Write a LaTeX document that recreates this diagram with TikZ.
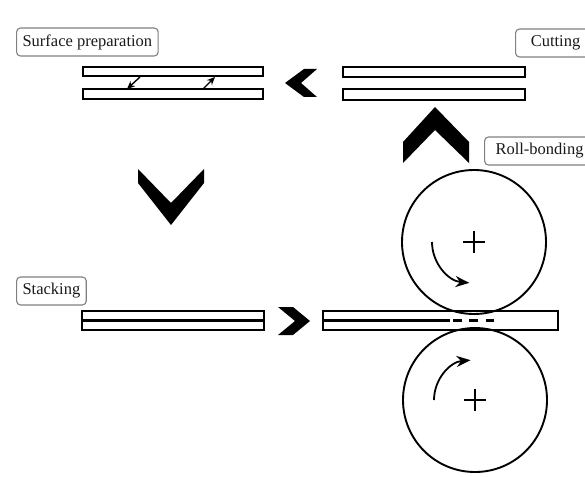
\documentclass[tikz,border=0pt]{standalone}
\usepackage{fontspec}
\setmainfont{Liberation Serif}
\usetikzlibrary{arrows.meta}
\tikzset{
  plate/.style={draw=black, line width=2.4pt, fill=white, inner sep=0pt},
  label/.style={draw=black!50, line width=1.1pt, rounded corners=4pt, fill=white,
    inner xsep=6pt, minimum height=28pt, text=black!90,
    font=\fontsize{16.5}{19}\selectfont},
  chev/.style={fill=black, draw=none},
  roll/.style={draw=black, line width=1.9pt},
  rot/.style={line width=1.8pt, -{Stealth[length=14pt,width=11pt]}},
  thin arrow/.style={line width=1.4pt, -{Stealth[length=8pt,width=7pt]}},
  mark line/.style={line width=1.6pt}
}
\begin{document}
\begin{tikzpicture}[x=1pt,y=-1pt]
\useasboundingbox (0,0) rectangle (585,476);
\clip (0,0) rectangle (585,476);

% labels
\node[label, anchor=west] (lsurf) at (16,42) {Surface preparation};
\node[label, anchor=west, minimum width=80pt] (lcut) at (515,43) {Cutting\hspace{12pt}};
\node[label, anchor=west, minimum width=110pt] (lroll) at (484,151) {Roll-bonding\hspace{12pt}};
\node[label, anchor=west] (lstack) at (16,291) {Stacking};

% top-left plates (surface preparation)
\node[plate, minimum width=180, minimum height=9] (pa) at (173,71.5) {};
\node[plate, minimum width=180, minimum height=10] (pb) at (173,94) {};
\coordinate (a1s) at (140,77);
\coordinate (a1e) at (127,89);
\coordinate (a2s) at (203,89);
\coordinate (a2e) at (215,77);
\draw[thin arrow] (a1s) -- (a1e);
\draw[thin arrow] (a2s) -- (a2e);

% top-right plates (cutting)
\node[plate, minimum width=182, minimum height=10] (pc) at (434,72) {};
\node[plate, minimum width=182, minimum height=11] (pd) at (434,94.5) {};

% left stacked plates
\node[plate, minimum width=182, minimum height=19] (ps) at (173,320.5) {};
\draw[line width=2.4pt] (ps.west |- 0,320.5) -- (ps.east |- 0,320.5);

% right plate through the rolls
\node[plate, minimum width=235, minimum height=19] (pr) at (440.5,320.5) {};
\coordinate (dash0) at (450,320.5);
\draw[line width=2.4pt] (pr.west |- 0,320.5) -- (dash0);
\draw[line width=2.4pt] (453,320.5) -- (462,320.5);
\draw[line width=2.4pt] (469,320.5) -- (478,320.5);
\draw[line width=2.4pt] (486,320.5) -- (494,320.5);

% rolls
\node[roll, circle, minimum size=144, inner sep=0pt] (rt) at (474,242) {};
\node[roll, circle, minimum size=144, inner sep=0pt] (rb) at (475,400) {};
% plus signs
\draw[mark line] (rt.center) ++(-11,0) -- ++(22,0);
\draw[mark line] (rt.center) ++(0,-11) -- ++(0,22);
\draw[mark line] (rb.center) ++(-11,0) -- ++(22,0);
\draw[mark line] (rb.center) ++(0,-11) -- ++(0,22);
% rotation arrows
\draw[rot] (rt.center) ++(-42,0) arc[start angle=180, end angle=95, radius=41];
\draw[rot] (rb.center) ++(-41,0) arc[start angle=180, end angle=265, radius=40];

% chevrons
\fill[chev] (285,83) -- (304,69) -- (317,69) -- (301,83) -- (317,97) -- (304,97) -- cycle;
\fill[chev] (435,107) -- (469,142) -- (469,163) -- (435,130) -- (403,163) -- (403,142) -- cycle;
\fill[chev] (138,169) -- (171,203) -- (204,169) -- (204,183) -- (171,225) -- (138,183) -- cycle;
\fill[chev] (278,307) -- (293,307) -- (310,321) -- (293,335) -- (278,335) -- (295,321) -- cycle;
\end{tikzpicture}
\end{document}
